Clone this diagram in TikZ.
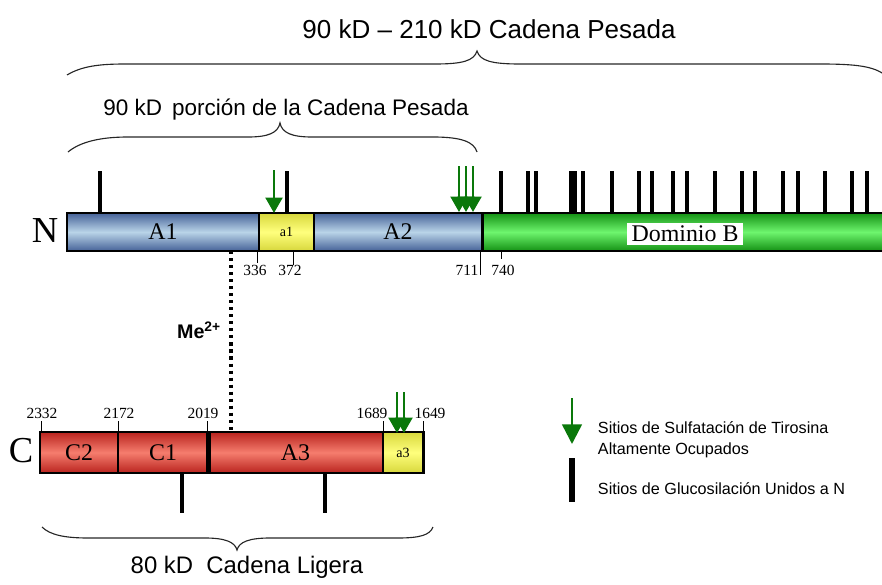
\documentclass[tikz,border=0pt]{standalone}
\usepackage{fontspec}
\setmainfont{Liberation Serif}
\setsansfont{Liberation Sans}
\usetikzlibrary{positioning,arrows.meta}

\definecolor{heavyblue}{RGB}{185,212,232}
\definecolor{heavybluedark}{RGB}{70,98,152}
\definecolor{siteyellow}{RGB}{255,255,125}
\definecolor{siteyellowdark}{RGB}{215,215,60}
\definecolor{domgreen}{RGB}{110,245,110}
\definecolor{domgreendark}{RGB}{20,145,20}
\definecolor{lightred}{RGB}{245,125,110}
\definecolor{lightreddark}{RGB}{185,35,30}
\definecolor{sulfgreen}{RGB}{10,120,10}

\begin{document}
\begin{tikzpicture}[
  x=0.025cm, y=-0.025cm,
  seg/.style={draw, line width=2pt, inner sep=0pt, outer sep=0pt, font=\fontsize{17}{17}\selectfont},
  heavyseg/.style={seg, minimum height=0.95cm},
  lightseg/.style={seg, minimum height=1.025cm},
  blueseg/.style={top color=heavybluedark, bottom color=heavybluedark, middle color=heavyblue},
  yellowseg/.style={top color=siteyellowdark, bottom color=siteyellowdark, middle color=siteyellow, font=\fontsize{10}{10}\selectfont},
  greenseg/.style={top color=domgreendark, bottom color=domgreendark, middle color=domgreen},
  redseg/.style={top color=lightreddark, bottom color=lightreddark, middle color=lightred},
  glyco/.style={line width=3.4pt},
  sulf/.style={draw=sulfgreen, fill=sulfgreen, line width=1.9pt, -{Triangle[width=12pt,length=11pt]}},
  numtick/.style={line width=0.6pt},
  num/.style={font=\fontsize{11}{11}\selectfont, inner sep=1pt},
  chainend/.style={font=\fontsize{26}{26}\selectfont},
  title/.style={font=\sffamily\fontsize{#1}{#1}\selectfont},
  legend/.style={font=\sffamily\fontsize{11.5}{15}\selectfont, align=left, anchor=west},
  bracel/.style={line width=0.8pt, black!85}
  ]
  \useasboundingbox (0,0) rectangle (882,585);

  % cadena pesada
  \node[heavyseg, blueseg, minimum width=4.8cm, anchor=west] (A1) at (67,232) {A1};
  \node[heavyseg, yellowseg, minimum width=1.375cm, right=0pt of A1] (a1) {a1};
  \node[heavyseg, blueseg, minimum width=4.2cm, right=0pt of a1] (A2) {A2};
  \node[heavyseg, greenseg, minimum width=10.2cm, right=0pt of A2] (B) {};
  \node[fill=white, inner xsep=3pt, inner ysep=2pt, font=\fontsize{17}{17}\selectfont] (Blbl) at (685,234) {Dominio B};
  \node[chainend] (N) at (45,231) {N};

  % cadena ligera
  \node[lightseg, redseg, minimum width=1.95cm, anchor=west] (C2) at (40,452.5) {C2};
  \node[lightseg, redseg, minimum width=2.25cm, right=0pt of C2] (C1) {C1};
  \node[lightseg, redseg, minimum width=4.375cm, right=0pt of C1] (A3) {A3};
  \node[lightseg, yellowseg, minimum width=1.0cm, right=0pt of A3] (a3) {a3};
  \draw[line width=3.5pt] (C1.north east) -- (C1.south east);
  \node[chainend] (C) at (21,451) {C};

  % sitios de glucosilacion
  \foreach \x in {100,287,501,528,536,571,575,583,612,639,652,673,687,715,742,755,783,798,825,852,867}
    \draw[glyco] (\x,171) -- (\x,213);
  \foreach \x in {182,325}
    \draw[glyco] (\x,473) -- (\x,513);

  % sulfatacion
  \draw[sulf] (274,170) -- (274,213);
  \foreach \x in {459,466,473}
    \draw[sulf] (\x,166) -- (\x,212);
  \foreach \x in {397,404}
    \draw[sulf] (\x,392) -- (\x,433);

  % numeracion
  \draw[numtick] (257,251) -- (257,263);
  \draw[numtick] (293,251) -- (293,265);
  \draw[numtick] (480,251) -- (480,275);
  \draw[numtick] (501,251) -- (501,259);
  \node[num] (n336) at (255,270) {336};
  \node[num] (n372) at (290,270) {372};
  \node[num] (n711) at (467,270) {711};
  \node[num] (n740) at (503,270) {740};
  \foreach \x in {41,118,207,383,423}
    \draw[numtick] (\x,421) -- (\x,432);
  \node[num] (n2332) at (42,413) {2332};
  \node[num] (n2172) at (119,413) {2172};
  \node[num] (n2019) at (203,413) {2019};
  \node[num] (n1689) at (372,413) {1689};
  \node[num] (n1649) at (430,413) {1649};

  % union por metal
  \coordinate (mex) at (231,0);
  \draw[line width=2.2pt, dash pattern=on 2.2pt off 2.8pt] (mex |- A1.south) -- (mex |- A3.north);
  \node[font=\sffamily\bfseries\fontsize{14}{14}\selectfont] (me) at (199,330) {Me\textsuperscript{2+}};

  % llaves
  \draw[bracel] (67,75) .. controls (82,66) and (100,64) .. (125,64) -- (435,64)
    .. controls (462,64) and (474,61) .. (477,51) .. controls (480,61) and (492,64) .. (520,64)
    -- (820,64) .. controls (855,64) and (875,66) .. (886,76);
  \draw[bracel] (68,152) .. controls (80,142) and (100,137) .. (128,137) -- (248,137)
    .. controls (268,137) and (278,133) .. (280,123) .. controls (282,133) and (292,137) .. (312,137)
    -- (433,137) .. controls (462,137) and (474,142) .. (477,152);
  \draw[bracel] (42,527) .. controls (50,535) and (65,538) .. (88,538) -- (205,538)
    .. controls (225,538) and (235,542) .. (237,550) .. controls (239,542) and (249,538) .. (270,538)
    -- (398,538) .. controls (420,538) and (430,535) .. (433,527);
  \node[title=18.5] (heavytitle) at (489,29) {90 kD – 210 kD Cadena Pesada};
  \node[title=16] (heavypart) at (286,110) {90 kD\, porción de la Cadena Pesada};
  \node[title=17] (lighttitle) at (247,567) {80 kD\ \ Cadena Ligera};

  % leyenda
  \draw[draw=sulfgreen, fill=sulfgreen, line width=1.8pt, -{Triangle[width=14pt,length=14pt]}] (572,398) -- (572,444);
  \node[legend] (sulftxt) at (593,439.5) {Sitios de Sulfatación de Tirosina\\Altamente Ocupados};
  \draw[line width=4.3pt] (572,458) -- (572,502);
  \node[legend] (glycotxt) at (593,489) {Sitios de Glucosilación Unidos a N};
\end{tikzpicture}
\end{document}
